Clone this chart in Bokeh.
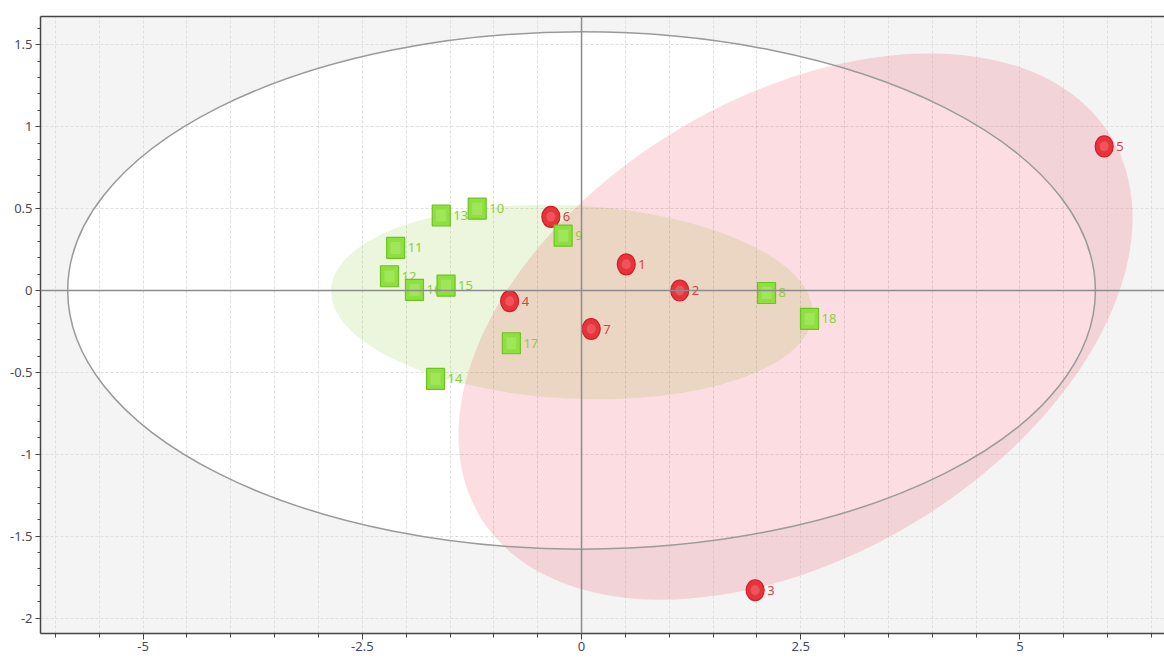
import numpy as np
from bokeh.plotting import figure
from bokeh.models import FixedTicker, LinearAxis, Span, ColumnDataSource, Range1d
from bokeh.embed import file_html
from bokeh.resources import INLINE
from bokeh.core.properties import value

# ---- data ----
red_labels = ["1", "2", "3", "4", "5", "6", "7"]
red_x = [0.51, 1.12, 1.98, -0.82, 5.96, -0.35, 0.11]
red_y = [0.16, 0.00, -1.83, -0.065, 0.88, 0.45, -0.235]

green_labels = ["8", "9", "10", "11", "12", "13", "14", "15", "16", "17", "18"]
green_x = [2.11, -0.21, -1.19, -2.12, -2.19, -1.60, -1.665, -1.545, -1.905, -0.80, 2.60]
green_y = [-0.015, 0.335, 0.50, 0.26, 0.087, 0.458, -0.54, 0.03, 0.004, -0.322, -0.173]

x_ticks = [-5, -2.5, 0, 2.5, 5]
x_tick_labels = ["-5", "-2.5", "0", "2.5", "5"]
y_ticks = [-2, -1.5, -1, -0.5, 0, 0.5, 1, 1.5]
y_tick_labels = ["-2", "-1.5", "-1", "-0.5", "0", "0.5", "1", "1.5"]

# ellipses: centre x, centre y, full width, full height, angle (deg)
hotelling_ellipse = [0.0, 0.0, 11.72, 3.16, 0.0]
red_ellipse = [2.44, -0.22, 8.40, 2.80, 31.0]
green_ellipse = [-0.11, -0.07, 5.50, 1.18, -3.0]

x_min, x_max = -6.17, 6.648
y_min, y_max = -2.094, 1.673

x_minor = list(np.arange(-6.0, 6.51, 0.5))
y_minor = list(np.round(np.arange(-2.0, 1.61, 0.1), 2))

FONT = "Noto Sans"

p = figure(width=1164, height=659, output_backend="svg", toolbar_location=None,
           x_range=Range1d(x_min, x_max), y_range=Range1d(y_min, y_max),
           min_border_left=40, min_border_top=16, min_border_right=0,
           min_border_bottom=26, x_axis_location="below")
p.background_fill_color = "#f4f4f4"
p.border_fill_color = "white"
p.outline_line_color = None

# axes
for ax in (p.xaxis[0], p.yaxis[0]):
    ax.axis_line_color = "#454545"
    ax.axis_line_width = 1.5
    ax.major_tick_line_color = "#454545"
    ax.minor_tick_line_color = "#454545"
    ax.major_tick_in = 0
    ax.minor_tick_in = 0
    ax.major_label_text_font = FONT
    ax.major_label_text_font_size = "13px"
    ax.major_label_text_color = "#4a4a55"

p.xaxis[0].ticker = FixedTicker(ticks=x_ticks, minor_ticks=x_minor)
p.xaxis[0].major_label_overrides = {t: l for t, l in zip(x_ticks, x_tick_labels)}
p.xaxis[0].major_tick_out = 6
p.xaxis[0].minor_tick_out = 4
p.xaxis[0].major_label_standoff = 2

p.yaxis[0].ticker = FixedTicker(ticks=y_ticks, minor_ticks=y_minor)
p.yaxis[0].major_label_overrides = {t: l for t, l in zip(y_ticks, y_tick_labels)}
p.yaxis[0].major_tick_out = 5
p.yaxis[0].minor_tick_out = 3
p.yaxis[0].major_label_standoff = 3

top_axis = LinearAxis(ticker=FixedTicker(ticks=[]), axis_line_color="#454545",
                      axis_line_width=1.5, major_tick_out=0, minor_tick_out=0,
                      major_label_text_font_size="0px", major_label_standoff=0)
p.add_layout(top_axis, "above")

# grids
p.xgrid.ticker = FixedTicker(ticks=x_minor)
p.ygrid.ticker = FixedTicker(ticks=y_ticks)
for g in (p.xgrid[0], p.ygrid[0]):
    g.grid_line_color = "#dedede"
    g.grid_line_dash = "3 2"
    g.grid_line_width = 1

# Hotelling ellipse (white fill beneath grid)
hx, hy, hw, hh, ha = hotelling_ellipse
r = p.ellipse(x=[hx], y=[hy], width=[hw], height=[hh], angle=[np.deg2rad(ha)],
              fill_color="white", line_color=None)
r.level = "image"

# group ellipses
gx, gy, gw, gh, ga = green_ellipse
p.ellipse(x=[gx], y=[gy], width=[gw], height=[gh], angle=[np.deg2rad(ga)],
          fill_color=(130, 200, 40), fill_alpha=0.16, line_color=None)
rx, ry, rw, rh, ra = red_ellipse
p.ellipse(x=[rx], y=[ry], width=[rw], height=[rh], angle=[np.deg2rad(ra)],
          fill_color=(235, 35, 62), fill_alpha=0.15, line_color=None)

# Hotelling outline
p.ellipse(x=[hx], y=[hy], width=[hw], height=[hh], angle=[np.deg2rad(ha)],
          fill_color=None, line_color="#9a9a9a", line_width=1.5)

# zero lines
p.add_layout(Span(location=0, dimension="width", line_color="#8c8c8c", line_width=1.5))
p.add_layout(Span(location=0, dimension="height", line_color="#8c8c8c", line_width=1.5))

red_src = ColumnDataSource(dict(x=red_x, y=red_y, t=red_labels))
green_src = ColumnDataSource(dict(x=green_x, y=green_y, t=green_labels))

# labels (beneath markers)
p.text(x="x", y="y", text="t", source=red_src, x_offset=12, y_offset=0,
       text_baseline="middle", text_align="left", text_font=value(FONT),
       text_font_size="13px", text_color="#d8404a")
p.text(x="x", y="y", text="t", source=green_src, x_offset=12, y_offset=0,
       text_baseline="middle", text_align="left", text_font=value(FONT),
       text_font_size="13px", text_color="#8cd03c")

# markers
p.ellipse(x="x", y="y", width=18, height=21, width_units="screen", height_units="screen",
          source=red_src, fill_color="#e8323c", line_color="#cc2028", line_width=1.2)
p.ellipse(x="x", y="y", width=9, height=10, width_units="screen", height_units="screen",
          source=red_src, fill_color="#f46a70", fill_alpha=0.6, line_color=None)
p.rect(x="x", y="y", width=18, height=21, width_units="screen", height_units="screen",
       source=green_src, fill_color="#8fdf3e", line_color="#6cc424", line_width=1.2)
p.rect(x="x", y="y", width=10, height=12, width_units="screen", height_units="screen",
       source=green_src, fill_color="#b2ee78", fill_alpha=0.5, line_color=None)

open("out.html", "w").write(file_html(p, INLINE))
